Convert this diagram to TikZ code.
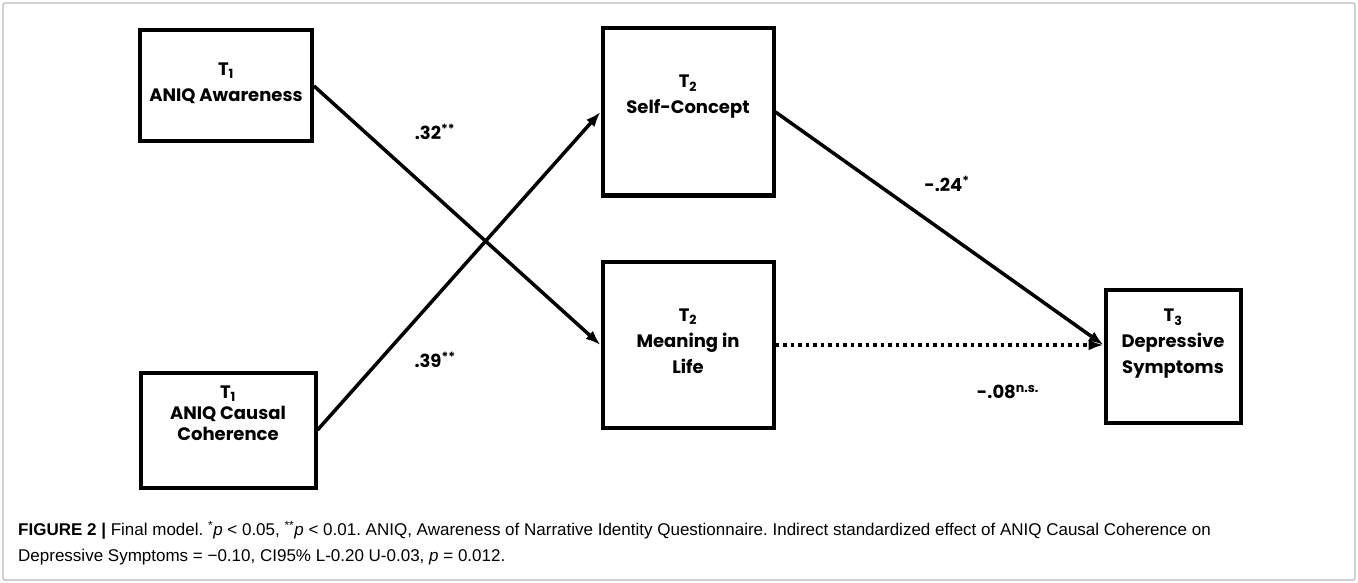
\documentclass[tikz,border=0pt]{standalone}
\usepackage{fontspec}
\setmainfont{Liberation Sans}
\newfontfamily\boxfont{Poppins}
\newfontfamily\capfont{Liberation Sans}
\usetikzlibrary{arrows.meta}
\frenchspacing

\begin{document}
\begin{tikzpicture}[x=1pt,y=-1pt]
        \tikzstyle{every node}=[font=\boxfont\bfseries\fontsize{18}{26}\selectfont, align=center, inner sep=0pt]
        \tikzstyle{varbox}=[draw, line width=4pt]
        \tikzstyle{effect}=[line width=3.5pt, -{Latex[length=15pt,width=11pt]}]
        \tikzstyle{coef}=[font=\boxfont\bfseries\fontsize{18}{20}\selectfont]
        \useasboundingbox (0,0) rectangle (1358,583);
        \draw[gray!55, line width=1.2pt, rounded corners=2pt] (3,3) rectangle (1355,580);
        \node[varbox, minimum width=172, minimum height=111, text depth=8pt] (aware) at (226,86) {T\textsubscript{1}\\ANIQ Awareness};
        \node[varbox, minimum width=175, minimum height=115, text depth=34pt, font=\boxfont\bfseries\fontsize{18}{21}\selectfont] (causal) at (228,430) {T\textsubscript{1}\\ANIQ Causal\\Coherence};
        \node[varbox, minimum width=171, minimum height=167, text depth=35pt] (self) at (688,112) {T\textsubscript{2}\\Self-Concept};
        \node[varbox, minimum width=171, minimum height=166, text depth=8pt] (meaning) at (688,345) {T\textsubscript{2}\\Meaning in\\Life};
        \node[varbox, minimum width=135, minimum height=133, text depth=29pt] (depr) at (1173,356) {T\textsubscript{3}\\Depressive\\Symptoms};
        \coordinate (deprin) at (depr.west |- meaning.east);
        \draw[effect] (aware.east) -- (meaning.west);
        \draw[effect] (causal.east) -- (self.west);
        \draw[effect] (self.east) -- (deprin);
        \draw[effect, dash pattern=on 3.5pt off 4pt] (meaning.east) -- (deprin);
        \node[coef] (c32) at (435,132) {.32\textsuperscript{**}};
        \node[coef] (c39) at (435,360) {.39\textsuperscript{**}};
        \node[coef] (c24) at (947,184) {-.24\textsuperscript{*}};
        \node[coef] (c08) at (1008,392) {-.08\textsuperscript{n.s.}};
        % caption
        \node[font=\capfont\fontsize{17}{26}\selectfont, align=left, anchor=north west] (caption) at (18,521) {{\bfseries FIGURE 2 |} Final model. \textsuperscript{*}\textit{p} < 0.05, \textsuperscript{**}\textit{p} < 0.01. ANIQ, Awareness of Narrative Identity Questionnaire. Indirect standardized effect of ANIQ Causal Coherence on\\Depressive Symptoms = −0.10, CI95\% L-0.20 U-0.03, \textit{p} = 0.012.};
\end{tikzpicture}
\end{document}
